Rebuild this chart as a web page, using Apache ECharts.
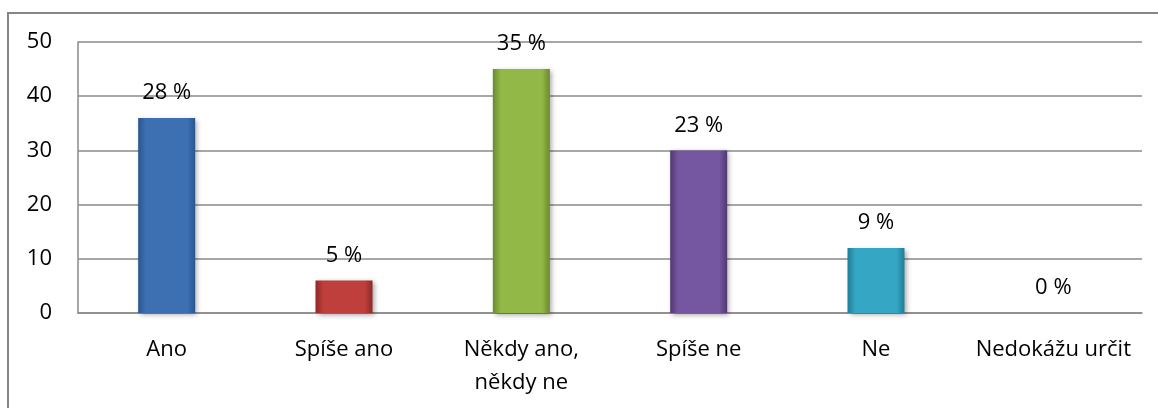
<!DOCTYPE html>
<html>
<head>
<meta charset="utf-8">
<script src="https://cdn.jsdelivr.net/npm/echarts@6/dist/echarts.min.js"></script>
<style>html,body{margin:0;padding:0;background:#fff}#c{width:1158px;height:408px}</style>
</head>
<body>
<div id="c"></div>
<script>
const categories = ['Ano', 'Spíše ano', 'Někdy ano,\nněkdy ne', 'Spíše ne', 'Ne', 'Nedokážu určit'];
const values = [36, 6, 45, 30, 12, 0];
const pctLabels = ['28 %', '5 %', '35 %', '23 %', '9 %', '0 %'];
const yTicks = [0, 10, 20, 30, 40, 50];
const barColors = [
  ['#2a568f', '#3d70b2'],
  ['#8e2927', '#bf3f3c'],
  ['#6a8a2e', '#92b847'],
  ['#513873', '#7556a0'],
  ['#1f7f97', '#35a6c3']
];

function grad(c) {
  return new echarts.graphic.LinearGradient(0, 0, 1, 0, [
    { offset: 0, color: c[0] },
    { offset: 0.14, color: c[1] },
    { offset: 0.86, color: c[1] },
    { offset: 1, color: c[0] }
  ]);
}

const chart = echarts.init(document.getElementById('c'), null, { renderer: 'canvas' });
const font = '"Open Sans", "Noto Sans", sans-serif';
chart.setOption({
  animation: false,
  textStyle: { fontFamily: font },
  graphic: [{
    type: 'rect',
    shape: { x: 8, y: 13, width: 1200, height: 500 },
    style: { fill: 'none', stroke: '#868686', lineWidth: 2 },
    silent: true
  }],
  grid: { left: 78, right: 16, top: 42, bottom: 95 },
  xAxis: {
    type: 'category',
    data: categories,
    axisTick: { show: false },
    axisLine: { show: true, lineStyle: { color: '#8a8a8a', width: 1.5 } },
    axisLabel: { color: '#000', fontSize: 22, fontFamily: font, margin: 20, lineHeight: 33, interval: 0 }
  },
  yAxis: {
    type: 'value',
    min: yTicks[0],
    max: yTicks[yTicks.length - 1],
    interval: 10,
    axisTick: { show: false },
    axisLine: { show: true, lineStyle: { color: '#8a8a8a', width: 1.5 } },
    splitLine: { show: true, lineStyle: { color: '#8a8a8a', width: 1.5 } },
    axisLabel: { color: '#000', fontSize: 22, fontFamily: font, margin: 26 }
  },
  series: [{
    type: 'bar',
    barWidth: 57,
    data: values.map((v, i) => ({
      value: v,
      itemStyle: barColors[i] ? {
        color: grad(barColors[i]),
        shadowBlur: 5,
        shadowColor: 'rgba(0,0,0,0.35)',
        shadowOffsetX: 2,
        shadowOffsetY: 2
      } : { color: 'transparent' }
    })),
    label: {
      show: true,
      position: 'top',
      distance: 14,
      color: '#000',
      fontSize: 22,
      fontFamily: font,
      formatter: p => pctLabels[p.dataIndex]
    }
  }]
});
</script>
</body>
</html>
